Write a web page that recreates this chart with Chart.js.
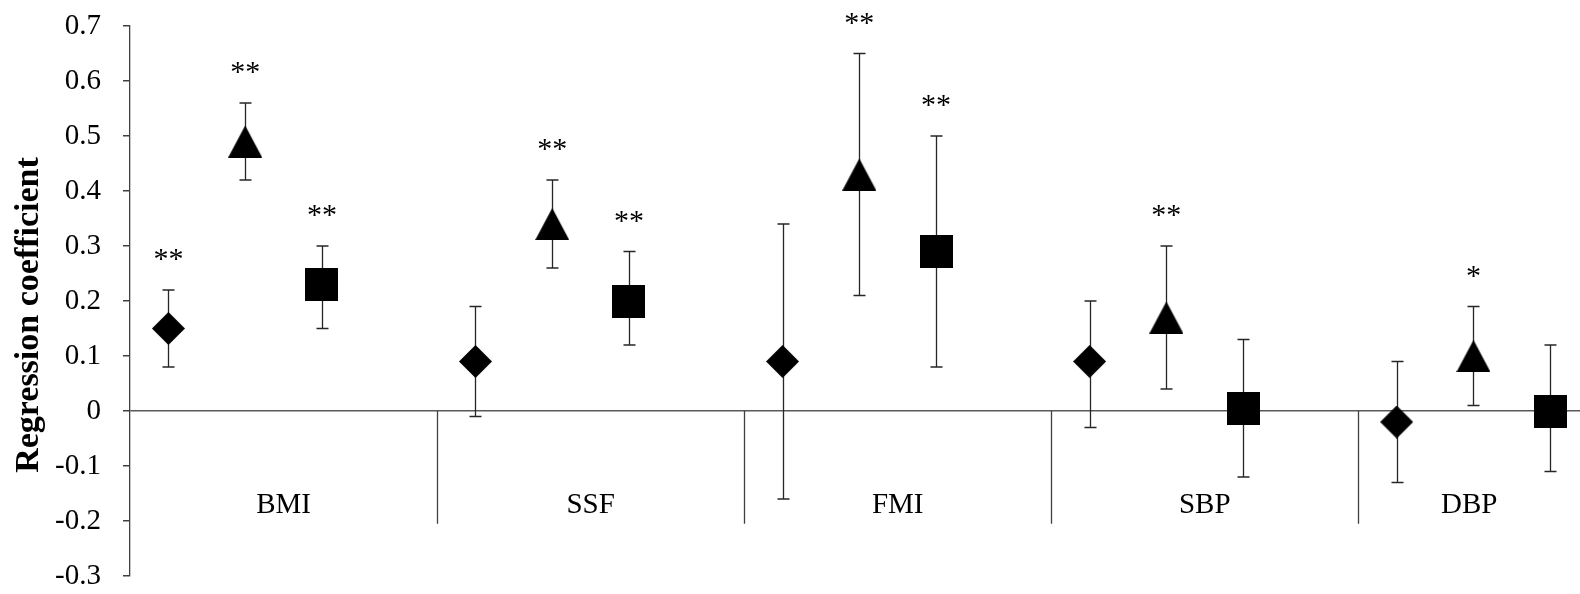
<!DOCTYPE html>
<html>
<head>
<meta charset="utf-8">
<script src="https://cdn.jsdelivr.net/npm/chart.js@4/dist/chart.umd.min.js"></script>
<style>
  html, body { margin: 0; padding: 0; background: #fff; }
  #wrap { width: 1580px; height: 594px; position: relative; }
</style>
</head>
<body>
<div id="wrap"><canvas id="coefChart"></canvas></div>
<script>
// categories and tick values
const categories = ['BMI', 'SSF', 'FMI', 'SBP', 'DBP'];
const yTicks = [-0.3, -0.2, -0.1, 0, 0.1, 0.2, 0.3, 0.4, 0.5, 0.6, 0.7];

// diamond series
const diamondValues = [0.15, 0.09, 0.09, 0.09, -0.02];
const diamondLower = [0.08, -0.01, -0.16, -0.03, -0.13];
const diamondUpper = [0.22, 0.19, 0.34, 0.20, 0.09];
const diamondSig = ['**', '', '', '', ''];

// triangle series
const triangleValues = [0.49, 0.34, 0.43, 0.17, 0.10];
const triangleLower = [0.42, 0.26, 0.21, 0.04, 0.01];
const triangleUpper = [0.56, 0.42, 0.65, 0.30, 0.19];
const triangleSig = ['**', '**', '**', '**', '*'];

// square series
const squareValues = [0.23, 0.20, 0.29, 0.005, 0.00];
const squareLower = [0.15, 0.12, 0.08, -0.12, -0.11];
const squareUpper = [0.30, 0.29, 0.50, 0.13, 0.12];
const squareSig = ['**', '**', '**', '', ''];

const FONT = '"Liberation Serif", "Times New Roman", serif';

function makeMarker(kind) {
  var c = document.createElement('canvas');
  var w = 33, h = 33;
  if (kind === 'triangle') { w = 34; h = 32; }
  c.width = w; c.height = h;
  var g = c.getContext('2d');
  g.fillStyle = '#000';
  g.beginPath();
  if (kind === 'diamond') {
    g.moveTo(w / 2, 0); g.lineTo(w, h / 2); g.lineTo(w / 2, h); g.lineTo(0, h / 2);
  } else if (kind === 'triangle') {
    g.moveTo(w / 2, 0); g.lineTo(w, h); g.lineTo(0, h);
  } else {
    g.rect(0, 0, w, h);
  }
  g.closePath();
  g.fill();
  return c;
}

function series(values, lower, upper, sig, slot, kind) {
  return {
    label: kind,
    data: values.map(function (v, i) {
      return { x: i + slot, y: v, lo: lower[i], hi: upper[i], sig: sig[i] };
    }),
    pointStyle: makeMarker(kind),
    pointRadius: 17,
    pointHoverRadius: 17,
    showLine: false,
  };
}

// error bars, category separators and labels, y title
const decorations = {
  id: 'decorations',
  beforeDatasetsDraw(chart) {
    const ctx = chart.ctx;
    const xs = chart.scales.x, ys = chart.scales.y;
    const area = chart.chartArea;
    ctx.save();
    // separators
    ctx.strokeStyle = '#404040';
    ctx.lineWidth = 1.3;
    for (let i = 1; i < categories.length; i++) {
      const px = Math.round(xs.getPixelForValue(i)) + 0.5;
      ctx.beginPath();
      ctx.moveTo(px, ys.getPixelForValue(0));
      ctx.lineTo(px, ys.getPixelForValue(-0.205));
      ctx.stroke();
    }
    // category labels
    ctx.fillStyle = '#000';
    ctx.font = '29px ' + FONT;
    ctx.textAlign = 'center';
    ctx.textBaseline = 'middle';
    categories.forEach(function (name, i) {
      const l = xs.getPixelForValue(i);
      const r = Math.min(xs.getPixelForValue(i + 1), area.right);
      ctx.fillText(name, (l + r) / 2, ys.getPixelForValue(-0.171));
    });
    // error bars
    ctx.strokeStyle = '#262626';
    ctx.lineWidth = 1.3;
    chart.data.datasets.forEach(function (ds) {
      ds.data.forEach(function (p) {
        const px = Math.round(xs.getPixelForValue(p.x)) + 0.5;
        const top = ys.getPixelForValue(p.hi);
        const bot = ys.getPixelForValue(p.lo);
        ctx.beginPath();
        ctx.moveTo(px, top); ctx.lineTo(px, bot);
        ctx.moveTo(px - 6, top); ctx.lineTo(px + 6, top);
        ctx.moveTo(px - 6, bot); ctx.lineTo(px + 6, bot);
        ctx.stroke();
      });
    });
    // y title
    ctx.font = 'bold 34px ' + FONT;
    ctx.translate(29, 315);
    ctx.rotate(-Math.PI / 2);
    ctx.fillText('Regression coefficient', 0, 0);
    ctx.restore();
  },
  afterDatasetsDraw(chart) {
    const ctx = chart.ctx;
    const xs = chart.scales.x, ys = chart.scales.y;
    ctx.save();
    ctx.fillStyle = '#000';
    ctx.font = '30px ' + FONT;
    ctx.textAlign = 'center';
    ctx.textBaseline = 'alphabetic';
    chart.data.datasets.forEach(function (ds) {
      ds.data.forEach(function (p) {
        if (!p.sig) return;
        ctx.fillText(p.sig, xs.getPixelForValue(p.x), ys.getPixelForValue(p.hi) - 22);
      });
    });
    ctx.restore();
  }
};

const ctx = document.getElementById('coefChart').getContext('2d');
const coefChart = new Chart(ctx, {
  type: 'scatter',
  data: {
    datasets: [
      series(diamondValues, diamondLower, diamondUpper, diamondSig, 0.125, 'diamond'),
      series(triangleValues, triangleLower, triangleUpper, triangleSig, 0.375, 'triangle'),
      series(squareValues, squareLower, squareUpper, squareSig, 0.625, 'square'),
    ],
  },
  options: {
    responsive: true,
    maintainAspectRatio: false,
    animation: false,
    layout: { autoPadding: false, padding: { top: 26, bottom: 18, left: 0, right: 0 } },
    plugins: { legend: { display: false }, tooltip: { enabled: false } },
    scales: {
      x: {
        type: 'linear', min: 0, max: 4.722, display: false,
        afterFit: function (s) { s.paddingLeft = 0; s.paddingRight = 0; },
      },
      y: {
        min: yTicks[0],
        max: yTicks[yTicks.length - 1],
        afterBuildTicks: function (s) { s.ticks = yTicks.map(function (v) { return { value: v }; }); },
        afterFit: function (s) {
          s.width = 130;
          s.paddingTop = 0;
          s.paddingBottom = 0;
        },
        border: { color: '#404040', width: 1.3 },
        grid: {
          color: function (c) { return c.tick && c.tick.value === 0 ? '#595959' : 'rgba(0,0,0,0)'; },
          lineWidth: 1.5,
          tickColor: '#404040',
          tickLength: 7,
        },
        ticks: {
          color: '#000',
          padding: 22,
          font: { family: FONT, size: 29 },
          callback: function (v) { return String(Math.round(v * 10) / 10); },
        },
      },
    },
  },
  plugins: [decorations],
});
</script>
</body>
</html>
